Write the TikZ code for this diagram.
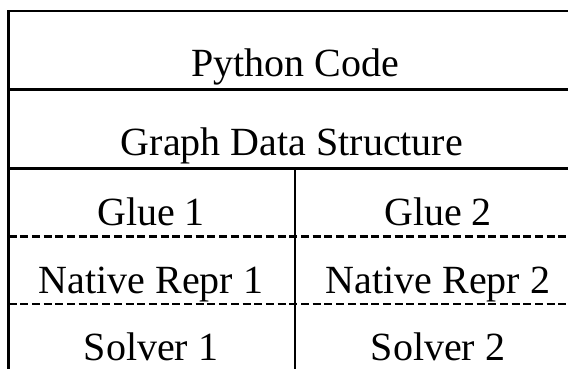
\documentclass[tikz,border=0pt]{standalone}
\usepackage{fontspec}
\setmainfont{Liberation Serif}
\begin{document}
\begin{tikzpicture}[x=1pt,y=-1pt,
  lbl/.style={anchor=base,inner sep=0pt,font=\fontsize{40}{48}\selectfont},
  solidline/.style={line width=2.8pt,line cap=rect},
  outline/.style={line width=2.3pt},
  dashline/.style={line width=2.1pt,dash pattern=on 8pt off 3.7pt}]
\useasboundingbox (0,0) rectangle (568,369);
% coordinates
\coordinate (tl) at (8.5,11);
\coordinate (tr) at (580,11);
\coordinate (bl) at (8.5,375);
\coordinate (r1l) at (8.5,89.5);
\coordinate (r1r) at (580,89.5);
\coordinate (r2l) at (8.5,168.5);
\coordinate (r2r) at (580,168.5);
\coordinate (mt) at (295,168.5);
\coordinate (mb) at (295,375);
\coordinate (d1l) at (8.5,236.5);
\coordinate (d1r) at (580,236.5);
\coordinate (d2l) at (8.5,304);
\coordinate (d2r) at (580,304);
% lines
\draw[outline] (tr) -- (tl) -- (bl);
\draw[solidline] (r1l) -- (r1r);
\draw[solidline] (r2l) -- (r2r);
\draw[outline] (mt) -- (mb);
\draw[dashline] (d1l) -- (d1r);
\draw[dashline] (d2l) -- (d2r);
% labels
\node[lbl] (py) at (295,77) {Python Code};
\node[lbl] (gds) at (292,155) {Graph Data Structure};
\node[lbl] (g1) at (151,225) {Glue 1};
\node[lbl] (g2) at (438,225) {Glue 2};
\node[lbl] (n1) at (151,293) {Native Repr 1};
\node[lbl] (n2) at (438,293) {Native Repr 2};
\node[lbl] (s1) at (151,360) {Solver 1};
\node[lbl] (s2) at (438,360) {Solver 2};
\end{tikzpicture}
\end{document}
